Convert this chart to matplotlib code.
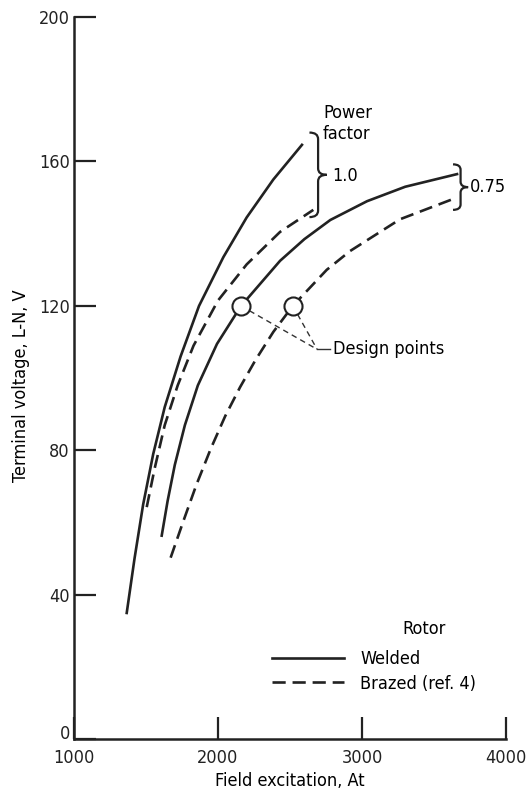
import matplotlib
matplotlib.use("Agg")
import matplotlib.pyplot as plt
from matplotlib import font_manager
from matplotlib.path import Path
from matplotlib.patches import PathPatch
from matplotlib.transforms import ScaledTranslation

# narrow-ish font if available, otherwise Liberation Sans
fonts = font_manager.fontManager.ttflist
names = {f.name for f in fonts}
if "Liberation Sans Narrow" in names:
    plt.rcParams['font.family'] = ['Liberation Sans Narrow', 'DejaVu Sans']
elif any(f.name == 'DejaVu Sans' and f.stretch == 'condensed' for f in fonts):
    plt.rcParams['font.family'] = ['DejaVu Sans']
    plt.rcParams['font.stretch'] = 'condensed'
else:
    plt.rcParams['font.family'] = ['Liberation Sans', 'DejaVu Sans']

# Field excitation (At) vs terminal voltage (V)
welded_pf10_x = [1366, 1420, 1480, 1550, 1630, 1740, 1868, 2037, 2199, 2384, 2583]
welded_pf10_y = [35, 50, 65, 79, 92, 106, 120, 133.5, 144.5, 155, 164.6]

brazed_pf10_x = [1505, 1560, 1630, 1720, 1830, 2000, 2199, 2431, 2662]
brazed_pf10_y = [64.3, 75, 87, 98, 109, 121.5, 131.5, 140.5, 146.6]

welded_pf075_x = [1609, 1650, 1700, 1770, 1860, 1993, 2160, 2431, 2600, 2780, 3035, 3300, 3660]
welded_pf075_y = [56.4, 66, 76, 87, 98, 109.5, 120, 132.5, 138.5, 143.8, 149, 153, 156.5]

brazed_pf075_x = [1671, 1760, 1850, 1950, 2050, 2153, 2260, 2384, 2519, 2755, 2917, 3264, 3658]
brazed_pf075_y = [50.3, 60.5, 70.5, 80.5, 89.5, 97.5, 105, 112.8, 120, 130, 135.2, 144, 150]

design_x = [2160, 2520]
design_y = [120, 120]

x_ticks = [1000, 2000, 3000, 4000]
y_ticks = [0, 40, 80, 120, 160, 200]

DASH = (5, 2.6)
INK = '#222222'


def brace(ax, x, y_top, y_bot, w, d):
    # curly brace opening to the left, tip pointing right
    ym = (y_top + y_bot) / 2
    xs = x + w / 2
    verts = [(x, y_top), (xs, y_top), (xs, y_top - d), (xs, ym + d),
             (xs, ym), (x + w, ym), (xs, ym), (xs, ym - d),
             (xs, y_bot + d), (xs, y_bot), (x, y_bot)]
    codes = [Path.MOVETO, Path.CURVE3, Path.CURVE3, Path.LINETO,
             Path.CURVE3, Path.CURVE3, Path.CURVE3, Path.CURVE3,
             Path.LINETO, Path.CURVE3, Path.CURVE3]
    ax.add_patch(PathPatch(Path(verts, codes), fill=False, lw=1.6,
                           color=INK, clip_on=False))


fig = plt.figure(figsize=(5.26, 7.94), dpi=100)
ax = fig.add_axes([0.1407, 0.0688, 0.8213, 0.9098])

lw = 1.9
ax.plot(welded_pf10_x, welded_pf10_y, color=INK, lw=lw, label='Welded')
ax.plot(brazed_pf10_x, brazed_pf10_y, color=INK, lw=lw, dashes=DASH,
        label='Brazed (ref. 4)')
ax.plot(welded_pf075_x, welded_pf075_y, color=INK, lw=lw)
ax.plot(brazed_pf075_x, brazed_pf075_y, color=INK, lw=lw, dashes=DASH)

# leader lines to the design point label
jx, jy = 2688, 108
for dx, dy in zip(design_x, design_y):
    ax.plot([dx, jx], [dy, jy], color='#333333', lw=1.0, dashes=(4, 3), zorder=2)
ax.plot([jx, 2778], [jy, jy], color='#333333', lw=1.0, zorder=2)
ax.text(2800, jy, 'Design points', ha='left', va='center', fontsize=13)

ax.plot(design_x, design_y, 'o', ms=13, mfc='white', mec=INK, mew=1.5,
        zorder=5)

# power factor braces
brace(ax, 2635, 168, 144.6, 120, 1.8)
brace(ax, 3632, 159.2, 146.6, 105, 1.5)
ax.text(2729, 170.5, 'Power\nfactor', ha='left', va='center', fontsize=13,
        linespacing=1.15)
ax.text(2795, 156, '1.0', ha='left', va='center', fontsize=13)
ax.text(3752, 153, '0.75', ha='left', va='center', fontsize=13)

# legend
ax.text(3431, 30.5, 'Rotor', ha='center', va='center', fontsize=13)
ax.legend(loc='center left', bbox_to_anchor=(0.458, 0.094), frameon=False,
          fontsize=13, handlelength=4.0, handletextpad=0.9, borderpad=0,
          borderaxespad=0, labelspacing=0.35)

ax.set_xlim(1000, 4000)
ax.set_ylim(0, 200)
ax.set_xticks(x_ticks)
ax.set_yticks(y_ticks)
ax.tick_params(direction='in', length=16, width=1.6, labelsize=13, pad=3,
               colors=INK)
ax.tick_params(axis='x', pad=7)
for s in ['top', 'right']:
    ax.spines[s].set_visible(False)
for s in ['left', 'bottom']:
    ax.spines[s].set_linewidth(1.8)
    ax.spines[s].set_color(INK)

# lift the "0" label a little so it sits above "1000"
zero = ax.yaxis.get_major_ticks()[0].label1
zero.set_transform(zero.get_transform() + ScaledTranslation(0, 5 / 72, fig.dpi_scale_trans))

ax.set_xlabel('Field excitation, At', fontsize=13)
ax.set_ylabel('Terminal voltage, L-N, V', fontsize=13)
ax.xaxis.set_label_coords(0.5, -0.045)
ax.yaxis.set_label_coords(-0.102, 0.49)

fig.savefig('out.png', dpi=100)
